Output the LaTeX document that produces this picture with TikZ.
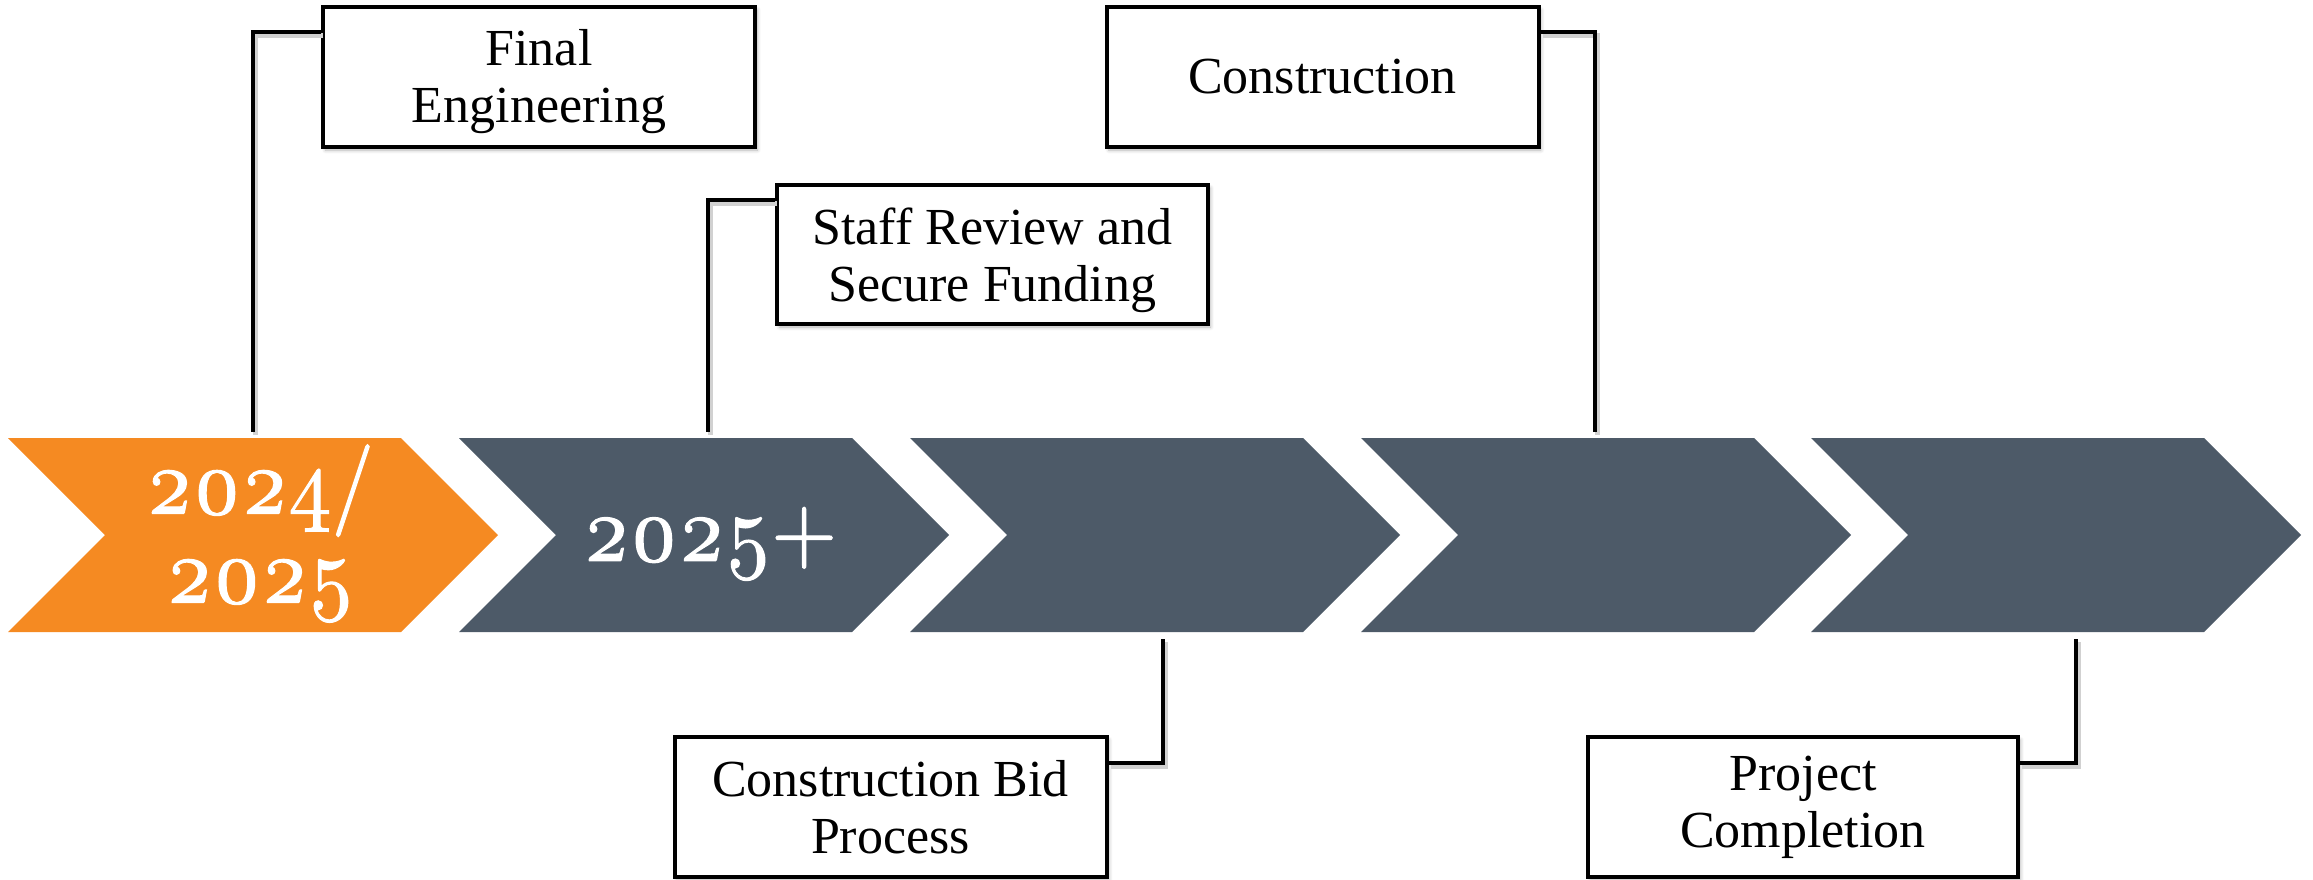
\documentclass[tikz,border=0pt]{standalone}
\usepackage{fontspec}
\setmainfont{Liberation Serif}
\newfontfamily\chevfont{lmroman10-regular.otf}[Numbers=OldStyle, FakeBold=1.2]
\usetikzlibrary{shadows.blur}
\definecolor{chevorange}{RGB}{245,138,34}
\definecolor{chevslate}{RGB}{77,90,104}
\newcommand\lowertext[2]{\raisebox{-#1}[\height][\depth]{\begin{tabular}{@{}c@{}}#2\end{tabular}}}
\newcommand\chevlines[1]{\scalebox{0.92}[1]{\begin{tabular}{@{}c@{}}#1\end{tabular}}}
\begin{document}
\begin{tikzpicture}[x=0.5pt,y=-0.5pt,
  chevtext/.style={text=white, font=\chevfont\bfseries\fontsize{46}{44.5}\selectfont, inner sep=0pt},
  stagebox/.style={draw=black, line width=2pt, fill=white, minimum width=216pt, minimum height=70pt,
    inner sep=0pt, align=center, font=\fontsize{26}{28.5}\selectfont,
    blur shadow={shadow xshift=1.2pt, shadow yshift=-1.5pt, shadow blur steps=6, shadow opacity=30}},
  conn/.style={line width=2pt, line join=miter, draw=black,
    preaction={draw=black!18, line width=2.5pt, transform canvas={shift={(1.2pt,-1.5pt)}}}}]
\useasboundingbox (0,0) rectangle (2313,879);
% chevrons
\foreach \L/\c in {8/chevorange, 459/chevslate, 910/chevslate, 1361/chevslate, 1811/chevslate}
  \fill[\c] (\L,438) -- ++(393,0) -- ++(97,97) -- ++(-97,97) -- ++(-393,0) -- ++(97,-97) -- cycle;
\node[chevtext] (y1) at (260,537) {\chevlines{2024/\\2025}};
\node[chevtext] (y2) at (710,543) {\chevlines{2025+}};
% connector end points on the chevrons
\coordinate (k1) at (253,432);
\coordinate (k2) at (708,432);
\coordinate (k3) at (1163,639);
\coordinate (k4) at (1595,432);
\coordinate (k5) at (2076,639);
% boxes
\node[stagebox] (fe) at (539,77) {\lowertext{3pt}{Final\\Engineering}};
\node[stagebox, minimum width=215.5pt, minimum height=69.5pt] (sr) at (992.5,254.5) {\lowertext{3.5pt}{Staff Review and\\Secure Funding}};
\node[stagebox] (co) at (1322.5,77) {Construction};
\node[stagebox] (bid) at (890.5,807) {Construction Bid\\Process};
\node[stagebox, minimum width=215pt] (pc) at (1803,807) {Project\\Completion};
% connectors
\draw[conn] ([yshift=-13.5pt]fe.north west) -| (k1);
\draw[conn] ([yshift=-8.5pt]sr.north west) -| (k2);
\draw[conn] ([yshift=-13.5pt]co.north east) -| (k4);
\draw[conn] ([yshift=-14pt]bid.north east) -| (k3);
\draw[conn] ([yshift=-14pt]pc.north east) -| (k5);
\end{tikzpicture}
\end{document}
